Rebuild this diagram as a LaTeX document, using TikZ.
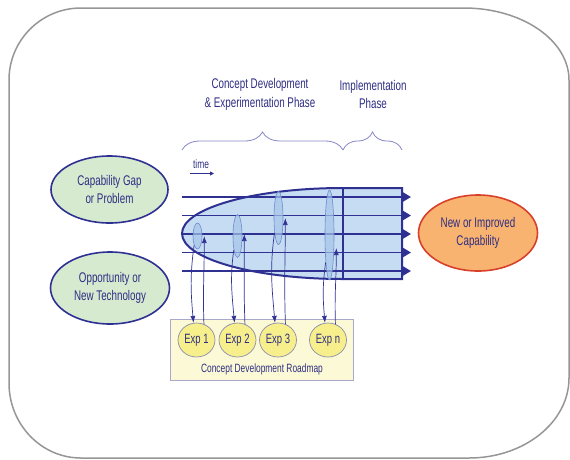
\documentclass[tikz,border=0pt]{standalone}
\usepackage{fontspec}
\setmainfont{Liberation Sans}[FakeStretch=0.7]
\usetikzlibrary{shapes.geometric,arrows.meta,decorations.pathreplacing}
\definecolor{navy}{RGB}{46,49,146}
\definecolor{txtblue}{RGB}{45,45,130}
\definecolor{framegray}{RGB}{150,150,150}
\definecolor{greenfill}{RGB}{214,234,208}
\definecolor{lensfill}{RGB}{197,220,242}
\definecolor{smallfill}{RGB}{165,197,234}
\definecolor{smalledge}{RGB}{110,140,205}
\definecolor{expfill}{RGB}{247,239,140}
\definecolor{expedge}{RGB}{140,140,175}
\definecolor{mapfill}{RGB}{252,250,214}
\definecolor{mapedge}{RGB}{168,168,200}
\definecolor{orangefill}{RGB}{249,179,112}
\definecolor{rededge}{RGB}{216,64,42}
\definecolor{bracecol}{RGB}{134,134,198}
\definecolor{loopcol}{RGB}{50,50,150}
\tikzset{
  bigtext/.style={font=\fontsize{14}{18.5}\selectfont, text=txtblue, align=center},
  greenell/.style={ellipse, draw=navy, line width=1.6pt, fill=greenfill, inner sep=0pt, bigtext},
  orangeell/.style={ellipse, draw=rededge, line width=1.6pt, fill=orangefill, inner sep=0pt, bigtext},
  flowarrow/.style={draw=navy, line width=1.9pt, -{Triangle[length=8pt,width=9pt]}},
  smallell/.style={ellipse, draw=smalledge, line width=0.6pt, fill=smallfill, fill opacity=0.7, inner sep=0pt, minimum width=9pt},
  expell/.style={ellipse, draw=expedge, line width=0.7pt, fill=expfill, inner sep=0pt, minimum width=37pt, minimum height=34pt, font=\fontsize{13.5}{15}\selectfont, text=txtblue},
  loopline/.style={draw=loopcol, line width=0.7pt, -{Latex[length=7pt,width=5pt]}},
  bracestyle/.style={draw=bracecol, line width=0.8pt, decorate, decoration={brace, amplitude=18pt, aspect=0.5}}
}
\begin{document}
\begin{tikzpicture}[x=1pt,y=1pt]
\useasboundingbox (0,0) rectangle (570,-459);
% frame
\draw[framegray, line width=1.5pt]
  (81,-8) -- (464,-8) arc[start angle=90, end angle=0, x radius=105, y radius=72]
  -- (569,-378) arc[start angle=0, end angle=-90, x radius=100, y radius=80]
  -- (81,-458) arc[start angle=270, end angle=180, x radius=72, y radius=75]
  -- (9,-80) arc[start angle=180, end angle=90, radius=72] -- cycle;

% phase texts and braces
\node[bigtext] (phase1) at (260,-94.5) {Concept Development\\\& Experimentation Phase};
\node[bigtext] (phase2) at (373,-94.5) {Implementation\\Phase};
\coordinate (b0) at (182,-150);
\coordinate (b1) at (343,-150);
\coordinate (b2) at (402,-150);
\draw[bracestyle] (b0) -- (b1);
\draw[bracestyle] (b1) -- (b2);

% time
\node[font=\fontsize{12}{13}\selectfont, text=txtblue] (time) at (201,-164) {time};
\coordinate (t0) at (190,-173.5);
\coordinate (t1) at (214,-173.5);
\draw[navy, line width=0.9pt, -{Triangle[length=4pt,width=4pt]}] (t0) -- (t1);

% lens shape
\draw[navy, line width=2pt, fill=lensfill]
  (343,-279) -- (402,-279) -- (402,-188) -- (343,-188)
  arc[start angle=90, end angle=270, x radius=161, y radius=45.5] -- cycle;
\coordinate (d0) at (343,-188);
\coordinate (d1) at (343,-279);
\draw[navy, line width=1.5pt] (d0) -- (d1);

% horizontal arrows
\foreach \i/\yy in {1/197,2/215.5,3/234,4/252.5,5/271}{
  \coordinate (a\i) at (182,-\yy);
  \coordinate (z\i) at (411,-\yy);
  \draw[flowarrow] (a\i) -- (z\i);
}

% big ellipses
\node[greenell, minimum width=117pt, minimum height=67pt] (gap) at (109.5,-189.5) {Capability Gap\\or Problem};
\node[greenell, minimum width=119pt, minimum height=72pt] (opp) at (110,-288) {Opportunity or\\New Technology};
\node[orangeell, minimum width=119pt, minimum height=76pt] (cap) at (478,-233) {New or Improved\\Capability};

% roadmap box
\node[draw=mapedge, line width=0.7pt, fill=mapfill, minimum width=183pt, minimum height=61pt, inner sep=0pt] (map) at (261.5,-349.5) {};
\node[font=\fontsize{12}{13}\selectfont, text=txtblue] (maplabel) at (262,-369.5) {Concept Development Roadmap};

% experiments
\node[expell] (e1) at (196.5,-340) {Exp 1};
\node[expell] (e2) at (237.5,-340) {Exp 2};
\node[expell] (e3) at (278,-340) {Exp 3};
\node[expell] (e4) at (328,-340) {Exp n};

% small ellipses in lens
\node[smallell, minimum height=26pt] (s1) at (197.5,-236) {};
\node[smallell, minimum height=43pt] (s2) at (237.5,-236) {};
\node[smallell, minimum height=53pt] (s3) at (278.5,-218) {};
\node[smallell, minimum height=90pt] (s4) at (329.5,-235) {};

% loops
\draw[loopline] (e1.65) to[out=92,in=-90] ([xshift=2pt]s1.east);
\draw[loopline] (s1.250) to[out=-98,in=95] (e1.100);
\draw[loopline] (e2.65) to[out=92,in=-90] ([xshift=2pt,yshift=2pt]s2.east);
\draw[loopline] (s2.255) to[out=-98,in=95] (e2.100);
\draw[loopline] (e3.65) to[out=92,in=-90] ([xshift=2pt]s3.east);
\draw[loopline] (s3.255) to[out=-98,in=95] (e3.100);
\draw[loopline] (e4.65) to[out=92,in=-90] ([xshift=2pt,yshift=-13pt]s4.east);
\draw[loopline] (s4.262) to[out=-98,in=95] (e4.100);
\end{tikzpicture}
\end{document}
